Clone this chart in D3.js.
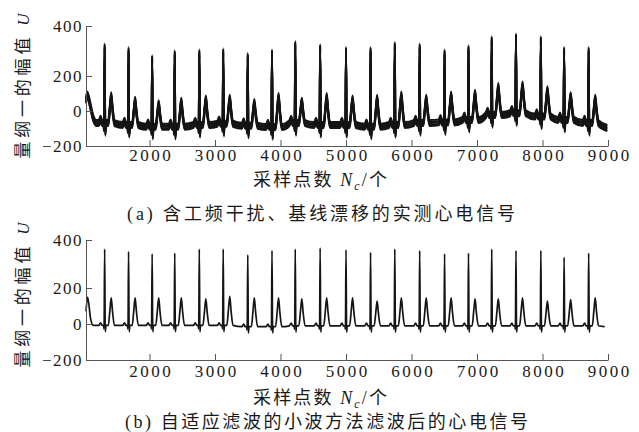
<!DOCTYPE html>
<html>
<head>
<meta charset="utf-8">
<script src="https://cdn.jsdelivr.net/npm/d3@7"></script>
<style>
  body { margin: 0; background: #fff; }
  svg { display: block; }
  .lbl { font-family: "Liberation Serif", "Noto Sans CJK SC", serif; font-size: 17px; fill: #1a1a1a; }
  .cap { font-size: 18px; }
</style>
</head>
<body>
<svg id="chart" width="639" height="432"></svg>
<script>
// sample index of every R peak (same beats in both records)
const beatSamples = [1315, 1680, 2040, 2385, 2760, 3125, 3500, 3870, 4225, 4605, 5000,
                     5375, 5745, 6125, 6505, 6870, 7225, 7595, 7975, 8330, 8705];

// (a) raw record: R peak, T peak, baseline before each beat
const rawR = [319, 305, 272, 292, 295, 299, 281, 295, 329, 316, 305,
              305, 325, 319, 295, 312, 348, 359, 348, 305, 305];
const rawT = [90, 64, 45, 58, 71, 76, 52, 86, 58, 86, 71,
              76, 95, 76, 95, 105, 143, 152, 124, 90, 76];
const rawBase = [-69, -80, -90, -90, -80, -73, -84, -92, -69, -80, -80,
                 -90, -80, -69, -65, -51, -23, -13, -32, -51, -69];
const rawLeadSamples = [1030, 1050, 1090, 1140, 1190];
const rawLeadValues = [60, 95, 40, -40, -69];
const rawEnd = [8990, -97];

// (b) filtered record
const filtR = [362, 352, 342, 345, 362, 362, 338, 356, 362, 366, 359,
               348, 362, 356, 342, 345, 362, 356, 356, 328, 345];
const filtT = [145, 145, 145, 145, 140, 154, 145, 145, 140, 145, 145,
               127, 145, 145, 145, 140, 140, 145, 127, 136, 145];
const filtBase = [-8, -8, -8, -8, -8, -8, -15, -15, -10, -10, -10,
                  -10, -10, -10, -10, -10, -10, -10, -10, -10, -10];
const filtLeadSamples = [1030, 1055, 1100, 1140];
const filtLeadValues = [70, 150, 30, -8];
const filtEnd = [8950, -15];

// one beat: offset from R (samples) and role of the vertex
const shapeOffsets = [-90, -62, -40, -18, -9, 0, 9, 20, 55, 80, 100, 120, 150];
const shapeRoles = ["b", "p", "b", "b", "q", "r", "s", "b", "b", "t1", "t", "t2", "b"];

const xTicks = [2000, 3000, 4000, 5000, 6000, 7000, 8000, 9000];
const yTicks = [-200, 0, 200, 400];

const svg = d3.select("#chart");
const x = d3.scaleLinear().domain([1030, 9000]).range([86, 608]);

function buildTrace(lead, leadV, R, T, base, end, amp) {
    const pts = lead.map((s, i) => [s, leadV[i]]);
    beatSamples.forEach((s, i) => {
        const b = base[i];
        shapeOffsets.forEach((dt, j) => {
            const role = shapeRoles[j];
            let v = b;
            if (role === "p") v = b + amp.p;
            else if (role === "q") v = b + amp.q;
            else if (role === "r") v = R[i];
            else if (role === "s") v = b + amp.s;
            else if (role === "t") v = T[i];
            else if (role === "t1") v = b + 0.55 * (T[i] - b);
            else if (role === "t2") v = b + 0.5 * (T[i] - b);
            pts.push([s + dt, v]);
        });
    });
    pts.push(end);
    return pts;
}

const panels = [
    {
        pts: buildTrace(rawLeadSamples, rawLeadValues, rawR, rawT, rawBase, rawEnd, { p: 25, q: -30, s: -55 }),
        yRange: [146, 111, 76, 26], tickPad: 3, xLabelY: 185.5, yLabelCy: 86,
        captionY: 220, captionX: 321, captionLen: 388,
        tag: "(a)", caption: " 含工频干扰、基线漂移的实测心电信号",
        bands: [-3, -1.5, 0, 1.5, 3], stroke: 2
    },
    {
        pts: buildTrace(filtLeadSamples, filtLeadValues, filtR, filtT, filtBase, filtEnd, { p: 15, q: -20, s: -35 }),
        yRange: [360, 324, 288, 240], tickPad: 4.5, xLabelY: 403.5, yLabelCy: 295,
        captionY: 427.5, captionX: 326.5, captionLen: 403,
        tag: "(b)", caption: " 自适应滤波的小波方法滤波后的心电信号",
        bands: [0], stroke: 1.7
    }
];

panels.forEach(p => {
    const y = d3.scaleLinear().domain([-200, 0, 200, 400]).range(p.yRange);
    const g = svg.append("g");

    const line = d3.line()
        .x(d => x(d[0]))
        .y(d => y(d[1]))
        .curve(d3.curveMonotoneX);

    // noisy record is drawn as a thick band
    p.bands.forEach(dy => {
        g.append("path")
            .datum(p.pts)
            .attr("transform", `translate(0,${dy})`)
            .attr("d", line)
            .attr("fill", "none")
            .attr("stroke", "#141414")
            .attr("stroke-width", p.stroke)
            .attr("stroke-linejoin", "round");
    });

    const xAxis = g.append("g")
        .attr("transform", `translate(0,${p.yRange[0]})`)
        .attr("color", "#555")
        .call(d3.axisBottom(x).tickValues(xTicks).tickSizeInner(-6).tickSizeOuter(0)
            .tickPadding(p.tickPad).tickFormat(d3.format("d")));

    const yAxis = g.append("g")
        .attr("transform", "translate(86,0)")
        .attr("color", "#555")
        .call(d3.axisLeft(y).tickValues(yTicks).tickSizeInner(-6).tickSizeOuter(0)
            .tickPadding(3).tickFormat(d => d < 0 ? "\u2212" + (-d) : d));

    [xAxis, yAxis].forEach(a => {
        a.attr("font-family", null).attr("font-size", null);
        a.selectAll("text").attr("class", "lbl").attr("fill", "#1a1a1a");
    });
    xAxis.selectAll("text").attr("letter-spacing", 2.5).attr("dx", 1.2);
    yAxis.selectAll("text").attr("letter-spacing", 1.5);

    // y title
    const yt = g.append("text")
        .attr("class", "lbl")
        .attr("transform", `translate(29,${p.yLabelCy}) rotate(-90)`)
        .attr("text-anchor", "middle")
        .attr("textLength", 145)
        .attr("lengthAdjust", "spacing");
    yt.append("tspan").text("量纲一的幅值 ");
    yt.append("tspan").attr("font-style", "italic").text("U");

    // x title
    const xt = g.append("text")
        .attr("class", "lbl cap")
        .attr("x", 320)
        .attr("y", p.xLabelY)
        .attr("text-anchor", "middle")
        .attr("textLength", 134)
        .attr("lengthAdjust", "spacing");
    xt.append("tspan").text("采样点数 ");
    xt.append("tspan").attr("font-style", "italic").text("N");
    xt.append("tspan").attr("font-style", "italic").attr("font-size", "12px").attr("dy", 4).text("c");
    xt.append("tspan").attr("dy", -4).text("/个");

    // caption
    const ct = g.append("text")
        .attr("class", "lbl cap")
        .attr("x", p.captionX)
        .attr("y", p.captionY)
        .attr("text-anchor", "middle")
        .attr("textLength", p.captionLen)
        .attr("lengthAdjust", "spacing");
    ct.append("tspan").text(p.tag);
    ct.append("tspan").text(p.caption);
});
</script>
</body>
</html>
